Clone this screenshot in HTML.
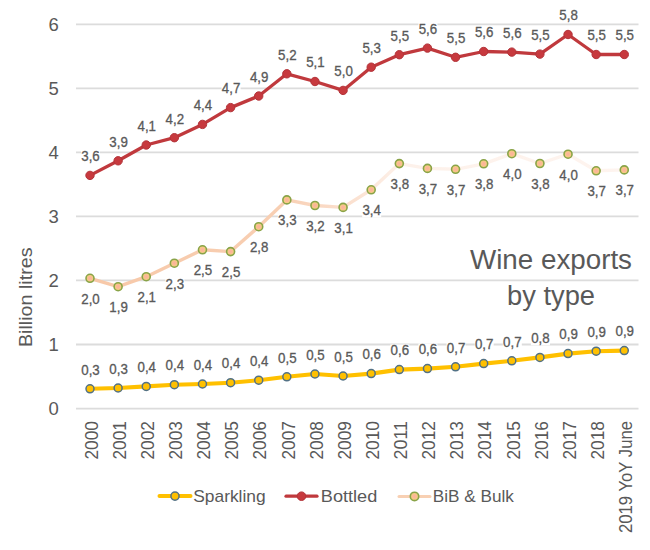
<!DOCTYPE html>
<html><head><meta charset="utf-8"><style>html,body{margin:0;padding:0;background:#fff;width:650px;height:550px;overflow:hidden}svg{display:block}text{font-family:"Liberation Sans",sans-serif}</style></head>
<body>
<svg width="650" height="550" viewBox="0 0 650 550" font-family="Liberation Sans, sans-serif">
<defs><linearGradient id="bibg" gradientUnits="userSpaceOnUse" x1="90" y1="0" x2="624" y2="0"><stop offset="0" stop-color="#f7c8a8"/><stop offset="0.36" stop-color="#f8cfb3"/><stop offset="0.5" stop-color="#fbe2d2"/><stop offset="0.58" stop-color="#fdf1ea"/><stop offset="1" stop-color="#fef4ef"/></linearGradient><radialGradient id="bibm"><stop offset="0" stop-color="#fcb09c"/><stop offset="0.45" stop-color="#fbbb96"/><stop offset="0.8" stop-color="#f2d07c"/><stop offset="1" stop-color="#e4cd6c"/></radialGradient></defs>
<rect width="650" height="550" fill="#fff"/>
<line x1="76" y1="24.3" x2="638.5" y2="24.3" stroke="#dcdcdc" stroke-width="1.8"/>
<line x1="76" y1="88.4" x2="638.5" y2="88.4" stroke="#dcdcdc" stroke-width="1.8"/>
<line x1="76" y1="152.4" x2="638.5" y2="152.4" stroke="#dcdcdc" stroke-width="1.8"/>
<line x1="76" y1="216.4" x2="638.5" y2="216.4" stroke="#dcdcdc" stroke-width="1.8"/>
<line x1="76" y1="280.4" x2="638.5" y2="280.4" stroke="#dcdcdc" stroke-width="1.8"/>
<line x1="76" y1="344.5" x2="638.5" y2="344.5" stroke="#dcdcdc" stroke-width="1.8"/>
<line x1="76" y1="408.6" x2="638.5" y2="408.6" stroke="#dcdcdc" stroke-width="1.8"/>
<rect x="81" y="150.4" width="19" height="13" fill="#fff"/>
<rect x="109.12" y="135.8" width="19" height="13" fill="#fff"/>
<rect x="137.24" y="120" width="19" height="13" fill="#fff"/>
<rect x="165.36" y="112.7" width="19" height="13" fill="#fff"/>
<rect x="193.48" y="99.4" width="19" height="13" fill="#fff"/>
<rect x="221.6" y="82.6" width="19" height="13" fill="#fff"/>
<rect x="249.72" y="71" width="19" height="13" fill="#fff"/>
<rect x="277.84" y="48.8" width="19" height="13" fill="#fff"/>
<rect x="305.96" y="56.5" width="19" height="13" fill="#fff"/>
<rect x="334.08" y="65.4" width="19" height="13" fill="#fff"/>
<rect x="362.2" y="42.2" width="19" height="13" fill="#fff"/>
<rect x="390.32" y="29.7" width="19" height="13" fill="#fff"/>
<rect x="418.44" y="23.1" width="19" height="13" fill="#fff"/>
<rect x="446.56" y="32.3" width="19" height="13" fill="#fff"/>
<rect x="474.68" y="26.5" width="19" height="13" fill="#fff"/>
<rect x="502.8" y="27.1" width="19" height="13" fill="#fff"/>
<rect x="530.92" y="29.1" width="19" height="13" fill="#fff"/>
<rect x="559.04" y="9.5" width="19" height="13" fill="#fff"/>
<rect x="587.16" y="29.5" width="19" height="13" fill="#fff"/>
<rect x="615.28" y="29.5" width="19" height="13" fill="#fff"/>
<rect x="81" y="292.8" width="19" height="13" fill="#fff"/>
<rect x="109.12" y="301.2" width="19" height="13" fill="#fff"/>
<rect x="137.24" y="291.2" width="19" height="13" fill="#fff"/>
<rect x="165.36" y="277.7" width="19" height="13" fill="#fff"/>
<rect x="193.48" y="264.3" width="19" height="13" fill="#fff"/>
<rect x="221.6" y="266.1" width="19" height="13" fill="#fff"/>
<rect x="249.72" y="241.2" width="19" height="13" fill="#fff"/>
<rect x="277.84" y="214.4" width="19" height="13" fill="#fff"/>
<rect x="305.96" y="220" width="19" height="13" fill="#fff"/>
<rect x="334.08" y="221.9" width="19" height="13" fill="#fff"/>
<rect x="362.2" y="204.3" width="19" height="13" fill="#fff"/>
<rect x="390.32" y="178.1" width="19" height="13" fill="#fff"/>
<rect x="418.44" y="182.9" width="19" height="13" fill="#fff"/>
<rect x="446.56" y="183.8" width="19" height="13" fill="#fff"/>
<rect x="474.68" y="178.3" width="19" height="13" fill="#fff"/>
<rect x="502.8" y="168.2" width="19" height="13" fill="#fff"/>
<rect x="530.92" y="178" width="19" height="13" fill="#fff"/>
<rect x="559.04" y="168.7" width="19" height="13" fill="#fff"/>
<rect x="587.16" y="185.3" width="19" height="13" fill="#fff"/>
<rect x="615.28" y="184.4" width="19" height="13" fill="#fff"/>
<rect x="81" y="363.7" width="19" height="13" fill="#fff"/>
<rect x="109.12" y="362.9" width="19" height="13" fill="#fff"/>
<rect x="137.24" y="361.3" width="19" height="13" fill="#fff"/>
<rect x="165.36" y="359.6" width="19" height="13" fill="#fff"/>
<rect x="193.48" y="358.9" width="19" height="13" fill="#fff"/>
<rect x="221.6" y="357.6" width="19" height="13" fill="#fff"/>
<rect x="249.72" y="355.1" width="19" height="13" fill="#fff"/>
<rect x="277.84" y="351.7" width="19" height="13" fill="#fff"/>
<rect x="305.96" y="348.9" width="19" height="13" fill="#fff"/>
<rect x="334.08" y="350.9" width="19" height="13" fill="#fff"/>
<rect x="362.2" y="348.5" width="19" height="13" fill="#fff"/>
<rect x="390.32" y="344.5" width="19" height="13" fill="#fff"/>
<rect x="418.44" y="343.5" width="19" height="13" fill="#fff"/>
<rect x="446.56" y="341.7" width="19" height="13" fill="#fff"/>
<rect x="474.68" y="338.5" width="19" height="13" fill="#fff"/>
<rect x="502.8" y="335.7" width="19" height="13" fill="#fff"/>
<rect x="530.92" y="332.3" width="19" height="13" fill="#fff"/>
<rect x="559.04" y="328.5" width="19" height="13" fill="#fff"/>
<rect x="587.16" y="326.1" width="19" height="13" fill="#fff"/>
<rect x="615.28" y="325.5" width="19" height="13" fill="#fff"/>
<text x="58.7" y="30.7" font-size="18.5" fill="#595959" text-anchor="end">6</text>
<text x="58.7" y="94.8" font-size="18.5" fill="#595959" text-anchor="end">5</text>
<text x="58.7" y="158.8" font-size="18.5" fill="#595959" text-anchor="end">4</text>
<text x="58.7" y="222.8" font-size="18.5" fill="#595959" text-anchor="end">3</text>
<text x="58.7" y="286.8" font-size="18.5" fill="#595959" text-anchor="end">2</text>
<text x="58.7" y="350.9" font-size="18.5" fill="#595959" text-anchor="end">1</text>
<text x="58.7" y="415" font-size="18.5" fill="#595959" text-anchor="end">0</text>
<text transform="translate(32.3,347) rotate(-90)" font-size="17.5" fill="#595959" textLength="99.5" lengthAdjust="spacingAndGlyphs">Billion litres</text>
<text transform="translate(97.7,421) rotate(-90)" font-size="18" fill="#595959" text-anchor="end" textLength="38.5" lengthAdjust="spacingAndGlyphs">2000</text>
<text transform="translate(125.82,421) rotate(-90)" font-size="18" fill="#595959" text-anchor="end" textLength="38.5" lengthAdjust="spacingAndGlyphs">2001</text>
<text transform="translate(153.94,421) rotate(-90)" font-size="18" fill="#595959" text-anchor="end" textLength="38.5" lengthAdjust="spacingAndGlyphs">2002</text>
<text transform="translate(182.06,421) rotate(-90)" font-size="18" fill="#595959" text-anchor="end" textLength="38.5" lengthAdjust="spacingAndGlyphs">2003</text>
<text transform="translate(210.18,421) rotate(-90)" font-size="18" fill="#595959" text-anchor="end" textLength="38.5" lengthAdjust="spacingAndGlyphs">2004</text>
<text transform="translate(238.3,421) rotate(-90)" font-size="18" fill="#595959" text-anchor="end" textLength="38.5" lengthAdjust="spacingAndGlyphs">2005</text>
<text transform="translate(266.42,421) rotate(-90)" font-size="18" fill="#595959" text-anchor="end" textLength="38.5" lengthAdjust="spacingAndGlyphs">2006</text>
<text transform="translate(294.54,421) rotate(-90)" font-size="18" fill="#595959" text-anchor="end" textLength="38.5" lengthAdjust="spacingAndGlyphs">2007</text>
<text transform="translate(322.66,421) rotate(-90)" font-size="18" fill="#595959" text-anchor="end" textLength="38.5" lengthAdjust="spacingAndGlyphs">2008</text>
<text transform="translate(350.78,421) rotate(-90)" font-size="18" fill="#595959" text-anchor="end" textLength="38.5" lengthAdjust="spacingAndGlyphs">2009</text>
<text transform="translate(378.9,421) rotate(-90)" font-size="18" fill="#595959" text-anchor="end" textLength="38.5" lengthAdjust="spacingAndGlyphs">2010</text>
<text transform="translate(407.02,421) rotate(-90)" font-size="18" fill="#595959" text-anchor="end" textLength="38.5" lengthAdjust="spacingAndGlyphs">2011</text>
<text transform="translate(435.14,421) rotate(-90)" font-size="18" fill="#595959" text-anchor="end" textLength="38.5" lengthAdjust="spacingAndGlyphs">2012</text>
<text transform="translate(463.26,421) rotate(-90)" font-size="18" fill="#595959" text-anchor="end" textLength="38.5" lengthAdjust="spacingAndGlyphs">2013</text>
<text transform="translate(491.38,421) rotate(-90)" font-size="18" fill="#595959" text-anchor="end" textLength="38.5" lengthAdjust="spacingAndGlyphs">2014</text>
<text transform="translate(519.5,421) rotate(-90)" font-size="18" fill="#595959" text-anchor="end" textLength="38.5" lengthAdjust="spacingAndGlyphs">2015</text>
<text transform="translate(547.62,421) rotate(-90)" font-size="18" fill="#595959" text-anchor="end" textLength="38.5" lengthAdjust="spacingAndGlyphs">2016</text>
<text transform="translate(575.74,421) rotate(-90)" font-size="18" fill="#595959" text-anchor="end" textLength="38.5" lengthAdjust="spacingAndGlyphs">2017</text>
<text transform="translate(603.86,421) rotate(-90)" font-size="18" fill="#595959" text-anchor="end" textLength="38.5" lengthAdjust="spacingAndGlyphs">2018</text>
<text transform="translate(631.98,421) rotate(-90)" font-size="18" fill="#595959" text-anchor="end" textLength="112" lengthAdjust="spacingAndGlyphs">2019 YoY June</text>
<text x="551" y="268.9" font-size="27.5" fill="#595959" text-anchor="middle" textLength="162" lengthAdjust="spacingAndGlyphs">Wine exports</text>
<text x="551" y="304.5" font-size="27.5" fill="#595959" text-anchor="middle" textLength="88" lengthAdjust="spacingAndGlyphs">by type</text>
<path d="M90,278.3 L118.12,286.7 L146.24,276.7 L174.36,263.2 L202.48,249.8 L230.6,251.6 L258.72,226.7 L286.84,199.9 L314.96,205.5 L343.08,207.4 L371.2,189.8 L399.32,163.6 L427.44,168.4 L455.56,169.3 L483.68,163.8 L511.8,153.7 L539.92,163.5 L568.04,154.2 L596.16,170.8 L624.28,169.9" fill="none" stroke="url(#bibg)" stroke-width="3.4" stroke-linejoin="round"/>
<path d="M90,388.8 L118.12,388 L146.24,386.4 L174.36,384.7 L202.48,384 L230.6,382.7 L258.72,380.2 L286.84,376.8 L314.96,374 L343.08,376 L371.2,373.6 L399.32,369.6 L427.44,368.6 L455.56,366.8 L483.68,363.6 L511.8,360.8 L539.92,357.4 L568.04,353.6 L596.16,351.2 L624.28,350.6" fill="none" stroke="#ffc000" stroke-width="4.1" stroke-linejoin="round"/>
<path d="M90,175.4 L118.12,160.8 L146.24,145 L174.36,137.7 L202.48,124.4 L230.6,107.6 L258.72,96 L286.84,73.8 L314.96,81.5 L343.08,90.4 L371.2,67.2 L399.32,54.7 L427.44,48.1 L455.56,57.3 L483.68,51.5 L511.8,52.1 L539.92,54.1 L568.04,34.5 L596.16,54.5 L624.28,54.5" fill="none" stroke="#c0393d" stroke-width="3.3" stroke-linejoin="round"/>
<circle cx="90" cy="175.4" r="4.2" fill="#c7393e" stroke="#b3343a" stroke-width="1"/>
<circle cx="118.12" cy="160.8" r="4.2" fill="#c7393e" stroke="#b3343a" stroke-width="1"/>
<circle cx="146.24" cy="145" r="4.2" fill="#c7393e" stroke="#b3343a" stroke-width="1"/>
<circle cx="174.36" cy="137.7" r="4.2" fill="#c7393e" stroke="#b3343a" stroke-width="1"/>
<circle cx="202.48" cy="124.4" r="4.2" fill="#c7393e" stroke="#b3343a" stroke-width="1"/>
<circle cx="230.6" cy="107.6" r="4.2" fill="#c7393e" stroke="#b3343a" stroke-width="1"/>
<circle cx="258.72" cy="96" r="4.2" fill="#c7393e" stroke="#b3343a" stroke-width="1"/>
<circle cx="286.84" cy="73.8" r="4.2" fill="#c7393e" stroke="#b3343a" stroke-width="1"/>
<circle cx="314.96" cy="81.5" r="4.2" fill="#c7393e" stroke="#b3343a" stroke-width="1"/>
<circle cx="343.08" cy="90.4" r="4.2" fill="#c7393e" stroke="#b3343a" stroke-width="1"/>
<circle cx="371.2" cy="67.2" r="4.2" fill="#c7393e" stroke="#b3343a" stroke-width="1"/>
<circle cx="399.32" cy="54.7" r="4.2" fill="#c7393e" stroke="#b3343a" stroke-width="1"/>
<circle cx="427.44" cy="48.1" r="4.2" fill="#c7393e" stroke="#b3343a" stroke-width="1"/>
<circle cx="455.56" cy="57.3" r="4.2" fill="#c7393e" stroke="#b3343a" stroke-width="1"/>
<circle cx="483.68" cy="51.5" r="4.2" fill="#c7393e" stroke="#b3343a" stroke-width="1"/>
<circle cx="511.8" cy="52.1" r="4.2" fill="#c7393e" stroke="#b3343a" stroke-width="1"/>
<circle cx="539.92" cy="54.1" r="4.2" fill="#c7393e" stroke="#b3343a" stroke-width="1"/>
<circle cx="568.04" cy="34.5" r="4.2" fill="#c7393e" stroke="#b3343a" stroke-width="1"/>
<circle cx="596.16" cy="54.5" r="4.2" fill="#c7393e" stroke="#b3343a" stroke-width="1"/>
<circle cx="624.28" cy="54.5" r="4.2" fill="#c7393e" stroke="#b3343a" stroke-width="1"/>
<circle cx="90" cy="278.3" r="4" fill="url(#bibm)" stroke="#89a348" stroke-width="1.6"/>
<circle cx="118.12" cy="286.7" r="4" fill="url(#bibm)" stroke="#89a348" stroke-width="1.6"/>
<circle cx="146.24" cy="276.7" r="4" fill="url(#bibm)" stroke="#89a348" stroke-width="1.6"/>
<circle cx="174.36" cy="263.2" r="4" fill="url(#bibm)" stroke="#89a348" stroke-width="1.6"/>
<circle cx="202.48" cy="249.8" r="4" fill="url(#bibm)" stroke="#89a348" stroke-width="1.6"/>
<circle cx="230.6" cy="251.6" r="4" fill="url(#bibm)" stroke="#89a348" stroke-width="1.6"/>
<circle cx="258.72" cy="226.7" r="4" fill="url(#bibm)" stroke="#89a348" stroke-width="1.6"/>
<circle cx="286.84" cy="199.9" r="4" fill="url(#bibm)" stroke="#89a348" stroke-width="1.6"/>
<circle cx="314.96" cy="205.5" r="4" fill="url(#bibm)" stroke="#89a348" stroke-width="1.6"/>
<circle cx="343.08" cy="207.4" r="4" fill="url(#bibm)" stroke="#89a348" stroke-width="1.6"/>
<circle cx="371.2" cy="189.8" r="4" fill="url(#bibm)" stroke="#89a348" stroke-width="1.6"/>
<circle cx="399.32" cy="163.6" r="4" fill="url(#bibm)" stroke="#89a348" stroke-width="1.6"/>
<circle cx="427.44" cy="168.4" r="4" fill="url(#bibm)" stroke="#89a348" stroke-width="1.6"/>
<circle cx="455.56" cy="169.3" r="4" fill="url(#bibm)" stroke="#89a348" stroke-width="1.6"/>
<circle cx="483.68" cy="163.8" r="4" fill="url(#bibm)" stroke="#89a348" stroke-width="1.6"/>
<circle cx="511.8" cy="153.7" r="4" fill="url(#bibm)" stroke="#89a348" stroke-width="1.6"/>
<circle cx="539.92" cy="163.5" r="4" fill="url(#bibm)" stroke="#89a348" stroke-width="1.6"/>
<circle cx="568.04" cy="154.2" r="4" fill="url(#bibm)" stroke="#89a348" stroke-width="1.6"/>
<circle cx="596.16" cy="170.8" r="4" fill="url(#bibm)" stroke="#89a348" stroke-width="1.6"/>
<circle cx="624.28" cy="169.9" r="4" fill="url(#bibm)" stroke="#89a348" stroke-width="1.6"/>
<circle cx="90" cy="388.8" r="4" fill="#ffc000" stroke="#527186" stroke-width="1.5"/>
<circle cx="118.12" cy="388" r="4" fill="#ffc000" stroke="#527186" stroke-width="1.5"/>
<circle cx="146.24" cy="386.4" r="4" fill="#ffc000" stroke="#527186" stroke-width="1.5"/>
<circle cx="174.36" cy="384.7" r="4" fill="#ffc000" stroke="#527186" stroke-width="1.5"/>
<circle cx="202.48" cy="384" r="4" fill="#ffc000" stroke="#527186" stroke-width="1.5"/>
<circle cx="230.6" cy="382.7" r="4" fill="#ffc000" stroke="#527186" stroke-width="1.5"/>
<circle cx="258.72" cy="380.2" r="4" fill="#ffc000" stroke="#527186" stroke-width="1.5"/>
<circle cx="286.84" cy="376.8" r="4" fill="#ffc000" stroke="#527186" stroke-width="1.5"/>
<circle cx="314.96" cy="374" r="4" fill="#ffc000" stroke="#527186" stroke-width="1.5"/>
<circle cx="343.08" cy="376" r="4" fill="#ffc000" stroke="#527186" stroke-width="1.5"/>
<circle cx="371.2" cy="373.6" r="4" fill="#ffc000" stroke="#527186" stroke-width="1.5"/>
<circle cx="399.32" cy="369.6" r="4" fill="#ffc000" stroke="#527186" stroke-width="1.5"/>
<circle cx="427.44" cy="368.6" r="4" fill="#ffc000" stroke="#527186" stroke-width="1.5"/>
<circle cx="455.56" cy="366.8" r="4" fill="#ffc000" stroke="#527186" stroke-width="1.5"/>
<circle cx="483.68" cy="363.6" r="4" fill="#ffc000" stroke="#527186" stroke-width="1.5"/>
<circle cx="511.8" cy="360.8" r="4" fill="#ffc000" stroke="#527186" stroke-width="1.5"/>
<circle cx="539.92" cy="357.4" r="4" fill="#ffc000" stroke="#527186" stroke-width="1.5"/>
<circle cx="568.04" cy="353.6" r="4" fill="#ffc000" stroke="#527186" stroke-width="1.5"/>
<circle cx="596.16" cy="351.2" r="4" fill="#ffc000" stroke="#527186" stroke-width="1.5"/>
<circle cx="624.28" cy="350.6" r="4" fill="#ffc000" stroke="#527186" stroke-width="1.5"/>
<text x="90.5" y="161.2" font-size="14" fill="#595959" stroke="#595959" stroke-width="0.3" text-anchor="middle" textLength="18.5" lengthAdjust="spacingAndGlyphs">3,6</text>
<text x="118.62" y="146.6" font-size="14" fill="#595959" stroke="#595959" stroke-width="0.3" text-anchor="middle" textLength="18.5" lengthAdjust="spacingAndGlyphs">3,9</text>
<text x="146.74" y="130.8" font-size="14" fill="#595959" stroke="#595959" stroke-width="0.3" text-anchor="middle" textLength="18.5" lengthAdjust="spacingAndGlyphs">4,1</text>
<text x="174.86" y="123.5" font-size="14" fill="#595959" stroke="#595959" stroke-width="0.3" text-anchor="middle" textLength="18.5" lengthAdjust="spacingAndGlyphs">4,2</text>
<text x="202.98" y="110.2" font-size="14" fill="#595959" stroke="#595959" stroke-width="0.3" text-anchor="middle" textLength="18.5" lengthAdjust="spacingAndGlyphs">4,4</text>
<text x="231.1" y="93.4" font-size="14" fill="#595959" stroke="#595959" stroke-width="0.3" text-anchor="middle" textLength="18.5" lengthAdjust="spacingAndGlyphs">4,7</text>
<text x="259.22" y="81.8" font-size="14" fill="#595959" stroke="#595959" stroke-width="0.3" text-anchor="middle" textLength="18.5" lengthAdjust="spacingAndGlyphs">4,9</text>
<text x="287.34" y="59.6" font-size="14" fill="#595959" stroke="#595959" stroke-width="0.3" text-anchor="middle" textLength="18.5" lengthAdjust="spacingAndGlyphs">5,2</text>
<text x="315.46" y="67.3" font-size="14" fill="#595959" stroke="#595959" stroke-width="0.3" text-anchor="middle" textLength="18.5" lengthAdjust="spacingAndGlyphs">5,1</text>
<text x="343.58" y="76.2" font-size="14" fill="#595959" stroke="#595959" stroke-width="0.3" text-anchor="middle" textLength="18.5" lengthAdjust="spacingAndGlyphs">5,0</text>
<text x="371.7" y="53" font-size="14" fill="#595959" stroke="#595959" stroke-width="0.3" text-anchor="middle" textLength="18.5" lengthAdjust="spacingAndGlyphs">5,3</text>
<text x="399.82" y="40.5" font-size="14" fill="#595959" stroke="#595959" stroke-width="0.3" text-anchor="middle" textLength="18.5" lengthAdjust="spacingAndGlyphs">5,5</text>
<text x="427.94" y="33.9" font-size="14" fill="#595959" stroke="#595959" stroke-width="0.3" text-anchor="middle" textLength="18.5" lengthAdjust="spacingAndGlyphs">5,6</text>
<text x="456.06" y="43.1" font-size="14" fill="#595959" stroke="#595959" stroke-width="0.3" text-anchor="middle" textLength="18.5" lengthAdjust="spacingAndGlyphs">5,5</text>
<text x="484.18" y="37.3" font-size="14" fill="#595959" stroke="#595959" stroke-width="0.3" text-anchor="middle" textLength="18.5" lengthAdjust="spacingAndGlyphs">5,6</text>
<text x="512.3" y="37.9" font-size="14" fill="#595959" stroke="#595959" stroke-width="0.3" text-anchor="middle" textLength="18.5" lengthAdjust="spacingAndGlyphs">5,6</text>
<text x="540.42" y="39.9" font-size="14" fill="#595959" stroke="#595959" stroke-width="0.3" text-anchor="middle" textLength="18.5" lengthAdjust="spacingAndGlyphs">5,5</text>
<text x="568.54" y="20.3" font-size="14" fill="#595959" stroke="#595959" stroke-width="0.3" text-anchor="middle" textLength="18.5" lengthAdjust="spacingAndGlyphs">5,8</text>
<text x="596.66" y="40.3" font-size="14" fill="#595959" stroke="#595959" stroke-width="0.3" text-anchor="middle" textLength="18.5" lengthAdjust="spacingAndGlyphs">5,5</text>
<text x="624.78" y="40.3" font-size="14" fill="#595959" stroke="#595959" stroke-width="0.3" text-anchor="middle" textLength="18.5" lengthAdjust="spacingAndGlyphs">5,5</text>
<text x="90.5" y="303.6" font-size="14" fill="#595959" stroke="#595959" stroke-width="0.3" text-anchor="middle" textLength="18.5" lengthAdjust="spacingAndGlyphs">2,0</text>
<text x="118.62" y="312" font-size="14" fill="#595959" stroke="#595959" stroke-width="0.3" text-anchor="middle" textLength="18.5" lengthAdjust="spacingAndGlyphs">1,9</text>
<text x="146.74" y="302" font-size="14" fill="#595959" stroke="#595959" stroke-width="0.3" text-anchor="middle" textLength="18.5" lengthAdjust="spacingAndGlyphs">2,1</text>
<text x="174.86" y="288.5" font-size="14" fill="#595959" stroke="#595959" stroke-width="0.3" text-anchor="middle" textLength="18.5" lengthAdjust="spacingAndGlyphs">2,3</text>
<text x="202.98" y="275.1" font-size="14" fill="#595959" stroke="#595959" stroke-width="0.3" text-anchor="middle" textLength="18.5" lengthAdjust="spacingAndGlyphs">2,5</text>
<text x="231.1" y="276.9" font-size="14" fill="#595959" stroke="#595959" stroke-width="0.3" text-anchor="middle" textLength="18.5" lengthAdjust="spacingAndGlyphs">2,5</text>
<text x="259.22" y="252" font-size="14" fill="#595959" stroke="#595959" stroke-width="0.3" text-anchor="middle" textLength="18.5" lengthAdjust="spacingAndGlyphs">2,8</text>
<text x="287.34" y="225.2" font-size="14" fill="#595959" stroke="#595959" stroke-width="0.3" text-anchor="middle" textLength="18.5" lengthAdjust="spacingAndGlyphs">3,3</text>
<text x="315.46" y="230.8" font-size="14" fill="#595959" stroke="#595959" stroke-width="0.3" text-anchor="middle" textLength="18.5" lengthAdjust="spacingAndGlyphs">3,2</text>
<text x="343.58" y="232.7" font-size="14" fill="#595959" stroke="#595959" stroke-width="0.3" text-anchor="middle" textLength="18.5" lengthAdjust="spacingAndGlyphs">3,1</text>
<text x="371.7" y="215.1" font-size="14" fill="#595959" stroke="#595959" stroke-width="0.3" text-anchor="middle" textLength="18.5" lengthAdjust="spacingAndGlyphs">3,4</text>
<text x="399.82" y="188.9" font-size="14" fill="#595959" stroke="#595959" stroke-width="0.3" text-anchor="middle" textLength="18.5" lengthAdjust="spacingAndGlyphs">3,8</text>
<text x="427.94" y="193.7" font-size="14" fill="#595959" stroke="#595959" stroke-width="0.3" text-anchor="middle" textLength="18.5" lengthAdjust="spacingAndGlyphs">3,7</text>
<text x="456.06" y="194.6" font-size="14" fill="#595959" stroke="#595959" stroke-width="0.3" text-anchor="middle" textLength="18.5" lengthAdjust="spacingAndGlyphs">3,7</text>
<text x="484.18" y="189.1" font-size="14" fill="#595959" stroke="#595959" stroke-width="0.3" text-anchor="middle" textLength="18.5" lengthAdjust="spacingAndGlyphs">3,8</text>
<text x="512.3" y="179" font-size="14" fill="#595959" stroke="#595959" stroke-width="0.3" text-anchor="middle" textLength="18.5" lengthAdjust="spacingAndGlyphs">4,0</text>
<text x="540.42" y="188.8" font-size="14" fill="#595959" stroke="#595959" stroke-width="0.3" text-anchor="middle" textLength="18.5" lengthAdjust="spacingAndGlyphs">3,8</text>
<text x="568.54" y="179.5" font-size="14" fill="#595959" stroke="#595959" stroke-width="0.3" text-anchor="middle" textLength="18.5" lengthAdjust="spacingAndGlyphs">4,0</text>
<text x="596.66" y="196.1" font-size="14" fill="#595959" stroke="#595959" stroke-width="0.3" text-anchor="middle" textLength="18.5" lengthAdjust="spacingAndGlyphs">3,7</text>
<text x="624.78" y="195.2" font-size="14" fill="#595959" stroke="#595959" stroke-width="0.3" text-anchor="middle" textLength="18.5" lengthAdjust="spacingAndGlyphs">3,7</text>
<text x="90.5" y="374.5" font-size="14" fill="#595959" stroke="#595959" stroke-width="0.3" text-anchor="middle" textLength="18.5" lengthAdjust="spacingAndGlyphs">0,3</text>
<text x="118.62" y="373.7" font-size="14" fill="#595959" stroke="#595959" stroke-width="0.3" text-anchor="middle" textLength="18.5" lengthAdjust="spacingAndGlyphs">0,3</text>
<text x="146.74" y="372.1" font-size="14" fill="#595959" stroke="#595959" stroke-width="0.3" text-anchor="middle" textLength="18.5" lengthAdjust="spacingAndGlyphs">0,4</text>
<text x="174.86" y="370.4" font-size="14" fill="#595959" stroke="#595959" stroke-width="0.3" text-anchor="middle" textLength="18.5" lengthAdjust="spacingAndGlyphs">0,4</text>
<text x="202.98" y="369.7" font-size="14" fill="#595959" stroke="#595959" stroke-width="0.3" text-anchor="middle" textLength="18.5" lengthAdjust="spacingAndGlyphs">0,4</text>
<text x="231.1" y="368.4" font-size="14" fill="#595959" stroke="#595959" stroke-width="0.3" text-anchor="middle" textLength="18.5" lengthAdjust="spacingAndGlyphs">0,4</text>
<text x="259.22" y="365.9" font-size="14" fill="#595959" stroke="#595959" stroke-width="0.3" text-anchor="middle" textLength="18.5" lengthAdjust="spacingAndGlyphs">0,4</text>
<text x="287.34" y="362.5" font-size="14" fill="#595959" stroke="#595959" stroke-width="0.3" text-anchor="middle" textLength="18.5" lengthAdjust="spacingAndGlyphs">0,5</text>
<text x="315.46" y="359.7" font-size="14" fill="#595959" stroke="#595959" stroke-width="0.3" text-anchor="middle" textLength="18.5" lengthAdjust="spacingAndGlyphs">0,5</text>
<text x="343.58" y="361.7" font-size="14" fill="#595959" stroke="#595959" stroke-width="0.3" text-anchor="middle" textLength="18.5" lengthAdjust="spacingAndGlyphs">0,5</text>
<text x="371.7" y="359.3" font-size="14" fill="#595959" stroke="#595959" stroke-width="0.3" text-anchor="middle" textLength="18.5" lengthAdjust="spacingAndGlyphs">0,6</text>
<text x="399.82" y="355.3" font-size="14" fill="#595959" stroke="#595959" stroke-width="0.3" text-anchor="middle" textLength="18.5" lengthAdjust="spacingAndGlyphs">0,6</text>
<text x="427.94" y="354.3" font-size="14" fill="#595959" stroke="#595959" stroke-width="0.3" text-anchor="middle" textLength="18.5" lengthAdjust="spacingAndGlyphs">0,6</text>
<text x="456.06" y="352.5" font-size="14" fill="#595959" stroke="#595959" stroke-width="0.3" text-anchor="middle" textLength="18.5" lengthAdjust="spacingAndGlyphs">0,7</text>
<text x="484.18" y="349.3" font-size="14" fill="#595959" stroke="#595959" stroke-width="0.3" text-anchor="middle" textLength="18.5" lengthAdjust="spacingAndGlyphs">0,7</text>
<text x="512.3" y="346.5" font-size="14" fill="#595959" stroke="#595959" stroke-width="0.3" text-anchor="middle" textLength="18.5" lengthAdjust="spacingAndGlyphs">0,7</text>
<text x="540.42" y="343.1" font-size="14" fill="#595959" stroke="#595959" stroke-width="0.3" text-anchor="middle" textLength="18.5" lengthAdjust="spacingAndGlyphs">0,8</text>
<text x="568.54" y="339.3" font-size="14" fill="#595959" stroke="#595959" stroke-width="0.3" text-anchor="middle" textLength="18.5" lengthAdjust="spacingAndGlyphs">0,9</text>
<text x="596.66" y="336.9" font-size="14" fill="#595959" stroke="#595959" stroke-width="0.3" text-anchor="middle" textLength="18.5" lengthAdjust="spacingAndGlyphs">0,9</text>
<text x="624.78" y="336.3" font-size="14" fill="#595959" stroke="#595959" stroke-width="0.3" text-anchor="middle" textLength="18.5" lengthAdjust="spacingAndGlyphs">0,9</text>
<line x1="159.5" y1="496.1" x2="190.5" y2="496.1" stroke="#ffc000" stroke-width="4" stroke-linecap="round"/>
<circle cx="175" cy="496.1" r="4.1" fill="#ffc000" stroke="#527186" stroke-width="1.5"/>
<text x="193.2" y="501.5" font-size="17" fill="#595959" textLength="72.5" lengthAdjust="spacingAndGlyphs">Sparkling</text>
<line x1="286" y1="496.2" x2="317" y2="496.2" stroke="#c0393d" stroke-width="3.2" stroke-linecap="round"/>
<circle cx="301.5" cy="496.2" r="4.3" fill="#c7393e" stroke="#b3343a" stroke-width="1"/>
<text x="320.8" y="501.5" font-size="17" fill="#595959" textLength="56.5" lengthAdjust="spacingAndGlyphs">Bottled</text>
<line x1="399" y1="496.4" x2="430" y2="496.4" stroke="#f8d0b3" stroke-width="3" stroke-linecap="round"/>
<circle cx="414.5" cy="496.4" r="4.2" fill="url(#bibm)" stroke="#89a348" stroke-width="1.6"/>
<text x="432.8" y="501.5" font-size="17" fill="#595959" textLength="81" lengthAdjust="spacingAndGlyphs">BiB &amp; Bulk</text>
</svg>
</body></html>
